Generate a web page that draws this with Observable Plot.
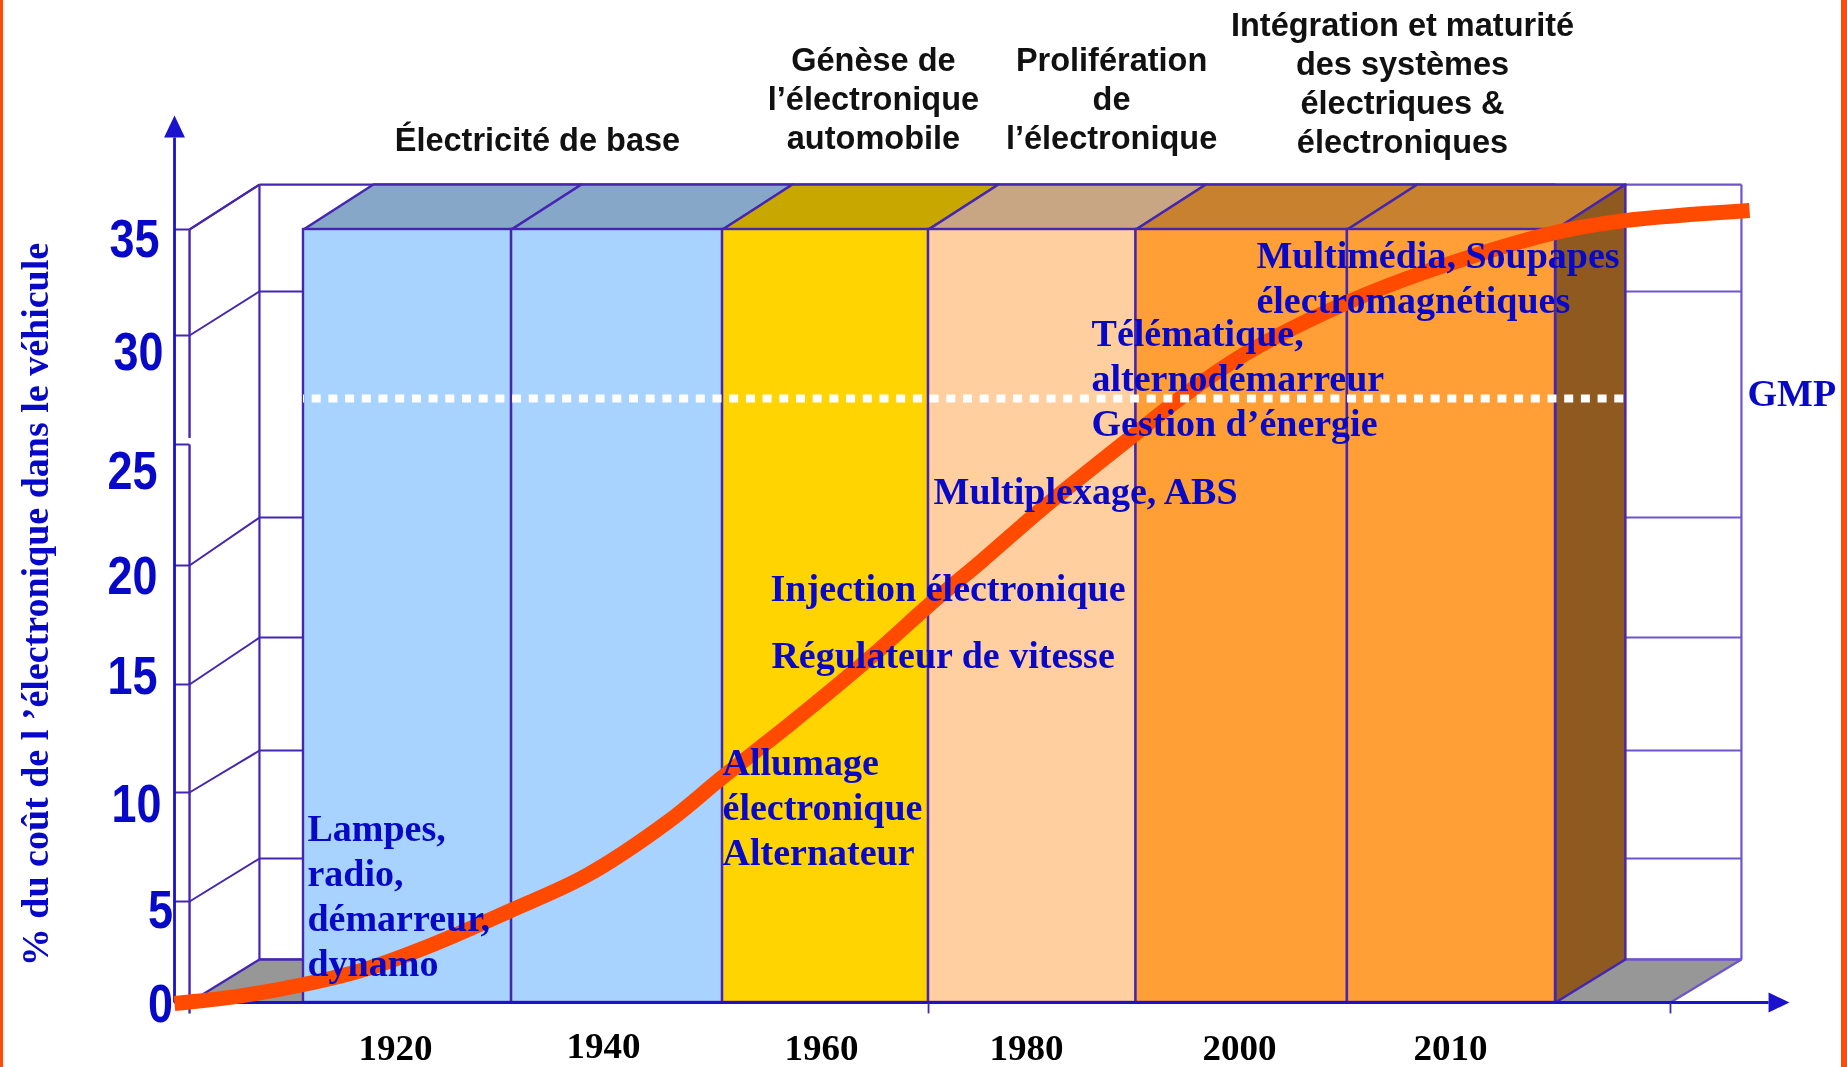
<!DOCTYPE html>
<html lang="fr">
<head>
<meta charset="utf-8">
<title>Part de l'électronique dans le coût du véhicule</title>
<script src="https://cdn.jsdelivr.net/npm/d3@7"></script>
<script src="https://cdn.jsdelivr.net/npm/@observablehq/plot@0.6"></script>
<style>
  html, body { margin: 0; padding: 0; background: #fff; overflow: hidden; }
  svg { display: block; filter: blur(0.5px); }
  .edge { position: absolute; top: 0; bottom: 0; background: #ff4a0a; }
</style>
</head>
<body>
<div id="chart"></div>
<div class="edge" style="left:0;width:3px"></div>
<div class="edge" style="left:1841px;width:6px"></div>
<script>
// ---- data (x in "column" units: one column of the chart = 1; y in % as read on the printed axis)
const yTicks = [0, 5, 10, 15, 20, 25, 30, 35];
const backLevels = [2.13, 6.97, 11.94, 16.97, 21.98, null, 32.08, 37.12];
const columnEdges = [0, 0.997, 2.008, 2.995, 3.989, 5.002, 5.999];
const depth = 0.335;
const curveX = [-0.618, -0.316, 0, 0.307, 0.632, 0.992, 1.356, 1.744, 2.008, 2.334, 2.722, 2.995, 3.253, 3.546, 3.987, 4.231, 4.523, 5.002, 5.405, 5.999, 6.33, 6.929];
const curveY = [-0.05, 0.3, 0.89, 1.68, 2.92, 4.55, 6.19, 8.64, 10.71, 13.19, 16.18, 18.32, 20.21, 22.4, 25.5, 27.34, 29.22, 31.56, 33.1, 34.86, 35.42, 35.9];
const gmpLevel = 27.11;

const yTickLabels = ["0", "5", "10", "15", "20", "25", "30", "35"];
const yTickLabelX = [-0.685, -0.685, -0.8, -0.819, -0.819, -0.819, -0.791, -0.81];
const yTickLabelY = [-0.05, 4.65, 9.54, 15.38, 19.58, 23.93, 29.31, 34.58];

const years = ["1920", "1940", "1960", "1980", "2000", "2010"];
const yearX = [0.441, 1.437, 2.482, 3.464, 4.485, 5.496];
const yearY = [-2.29, -2.19, -2.29, -2.29, -2.29, -2.29];

const eraLabels = ["Électricité de base", "Génèse de\nl’électronique\nautomobile", "Prolifération\nde\nl’électronique", "Intégration et maturité\ndes systèmes\nélectriques &\nélectroniques"];
const eraX = [1.121, 2.731, 3.872, 5.266];
const eraY = [39.29, 41.24, 41.24, 41.96];

const notes = ["Lampes,\nradio,\ndémarreur,\ndynamo", "Allumage\nélectronique\nAlternateur", "Injection électronique", "Régulateur de vitesse", "Multiplexage, ABS", "Télématique,\nalternodémarreur\nGestion d’énergie", "Multimédia, Soupapes\nélectromagnétiques", "GMP"];
const noteX = [0.019, 2.008, 2.238, 2.242, 3.019, 3.776, 4.566, 6.919];
const noteY = [5.35, 9.41, 19.13, 16.31, 23.12, 28.12, 32.82, 27.44];

const yTitle = "% du coût de l ’électronique dans le véhicule";

// ---- styles
const frontColors = ["#a8d3ff", "#a8d3ff", "#ffd400", "#ffcf9f", "#ff9f35", "#ff9f35"];
const topColors = ["#86a7c8", "#86a7c8", "#c8a700", "#c8a583", "#c8812e", "#c8812e"];
const sideColor = "#8e5a20", floorColor = "#979797";
const lineColor = "#4526b0", axisColor = "#1a12cc", wallRightColor = "#6f55cc";
const blue = "#0808c8", curveColor = "#ff4a00";
const serif = "Liberation Serif, Times New Roman, serif";
const sans = "Liberation Sans, Arial, sans-serif";

// ---- derived tables
const lastEdge = columnEdges[columnEdges.length - 1];
const topBack = backLevels[7], floorBack = backLevels[0], topLevel = yTicks[7];
const wallLeft = -0.211, wallRight = 6.89, axisX = -0.618, innerAxisX = -0.546, floorTickX = 6.55;

const fronts = frontColors.map((c, i) => ({x1: columnEdges[i], x2: columnEdges[i + 1], c}));
const poly = (pts, fill, extra = {}) => Plot.line(pts.map(([x, y]) => ({x, y})), {x: "x", y: "y", fill, stroke: "none", curve: "linear-closed", ...extra});
const seg = (list, stroke, strokeWidth = 2) => Plot.link(list, {x1: d => d[0], y1: d => d[1], x2: d => d[2], y2: d => d[3], stroke, strokeWidth});

const tops = topColors.map((c, i) => poly([
  [columnEdges[i], topLevel], [columnEdges[i + 1], topLevel],
  [columnEdges[i + 1] + depth, topBack], [columnEdges[i] + depth, topBack]
], c, {stroke: lineColor, strokeWidth: 2.4}));

const levels = yTicks.map((v, i) => ({v, b: backLevels[i]}));
const tickSegs = levels.map(d => [axisX, d.v, innerAxisX, d.v]);
const diagSegs = levels.filter(d => d.b != null && d.v > 0).map(d => [innerAxisX, d.v, wallLeft, d.b]);
const leftSegs = levels.filter(d => d.b != null && d.v < 35).map(d => [wallLeft, d.b, 0, d.b]);
const rightSegs = levels.filter(d => d.b != null && d.v < 35).map(d => [lastEdge + depth, d.b, wallRight, d.b]);

const curve = curveX.map((x, i) => ({x, y: curveY[i]}));

const chart = Plot.plot({
  width: 1847, height: 1067,
  marginTop: 0, marginRight: 0, marginBottom: 0, marginLeft: 0,
  x: {type: "linear", domain: [-1.4518, 7.3982], range: [0, 1847], axis: null},
  y: {type: "linear", domain: yTicks, range: [1002, 901, 792, 684, 565, 444, 335, 229], axis: null},
  marks: [
    // floors and right side of the block
    poly([[innerAxisX, 0], [wallLeft, floorBack], [0, floorBack], [0, 0]], floorColor),
    poly([[lastEdge, 0], [lastEdge + depth, floorBack], [wallRight, floorBack], [floorTickX, 0]], floorColor),
    // wall lines
    seg([[wallLeft, topBack, lastEdge, topBack], [wallLeft, topBack, wallLeft, floorBack], [wallLeft, floorBack, 0, floorBack], [innerAxisX, topLevel, wallLeft, topBack], [innerAxisX, 0, wallLeft, floorBack]], lineColor, 2.2),
    seg([[lastEdge + depth, topBack, wallRight, topBack], [wallRight, topBack, wallRight, floorBack], [lastEdge + depth, floorBack, wallRight, floorBack], [floorTickX, 0, wallRight, floorBack]], wallRightColor, 2.2),
    seg(diagSegs, lineColor, 2),
    seg(leftSegs, lineColor, 2),
    seg(rightSegs, wallRightColor, 2),
    seg([[innerAxisX, topLevel, innerAxisX, 25.3], [innerAxisX, 25, innerAxisX, -0.54]], lineColor, 2.4),
    seg(tickSegs, lineColor, 2),
    // columns
    ...tops,
    Plot.rect(fronts, {x1: "x1", x2: "x2", y1: 0, y2: topLevel, fill: "c", stroke: lineColor, strokeWidth: 2.4}),
    poly([[lastEdge, topLevel], [lastEdge + depth, topBack], [lastEdge + depth, floorBack], [lastEdge, 0]], sideColor, {stroke: lineColor, strokeWidth: 2.4}),
    // axes
    seg([[axisX, 0, 7.02, 0], [axisX, 0, axisX, 39.34]], axisColor, 2.8),
    seg([[columnEdges[3], 0, columnEdges[3], -0.54], [floorTickX, 0, floorTickX, -0.54]], lineColor, 1.8),
    poly([[axisX - 0.05, 39.34], [axisX + 0.05, 39.34], [axisX, 40.38]], axisColor),
    poly([[7.02, -0.5], [7.02, 0.5], [7.12, 0]], axisColor),
    // curve and GMP level
    Plot.line(curve, {x: "x", y: "y", stroke: curveColor, strokeWidth: 15, curve: "catmull-rom", strokeLinecap: "butt"}),
    Plot.ruleY([gmpLevel], {x1: 0, x2: lastEdge + depth, stroke: "#fff", strokeWidth: 8, strokeDasharray: "9 7.7", strokeDashoffset: 8}),
    // texts
    Plot.text(notes, {x: (d, i) => noteX[i], y: (d, i) => noteY[i], text: d => d, textAnchor: "start", lineAnchor: "middle", lineHeight: 45 / 38, fontFamily: serif, fontWeight: 700, fontSize: 38, fill: blue}),
    Plot.text(eraLabels, {x: (d, i) => eraX[i], y: (d, i) => eraY[i], text: d => d, textAnchor: "middle", lineAnchor: "middle", lineHeight: 39 / 32.5, fontFamily: sans, fontWeight: 700, fontSize: 32.5, fill: "#111"}),
    Plot.text(years, {x: (d, i) => yearX[i], y: (d, i) => yearY[i], text: d => d, lineAnchor: "middle", fontFamily: serif, fontWeight: 700, fontSize: 35, fill: "#000", className: "year-label"}),
    Plot.text(yTickLabels, {x: (d, i) => yTickLabelX[i], y: (d, i) => yTickLabelY[i], text: d => d, lineAnchor: "middle", dy: 1.7, fontFamily: sans, fontWeight: 700, fontSize: 54, fill: blue, className: "tick-label"}),
    Plot.text([yTitle], {x: [-1.284], y: [18.36], text: d => d, rotate: -90, lineAnchor: "middle", fontFamily: serif, fontWeight: 700, fontSize: 38, fill: blue})
  ]
});
// the printed axis digits and years are condensed / slightly stretched glyphs
chart.querySelectorAll(".tick-label text").forEach(t => {
  t.setAttribute("textLength", t.textContent.length * 25);
  t.setAttribute("lengthAdjust", "spacingAndGlyphs");
});
chart.querySelectorAll(".year-label text").forEach(t => {
  t.setAttribute("textLength", 74);
  t.setAttribute("lengthAdjust", "spacingAndGlyphs");
});
document.getElementById("chart").append(chart);
</script>
</body>
</html>
